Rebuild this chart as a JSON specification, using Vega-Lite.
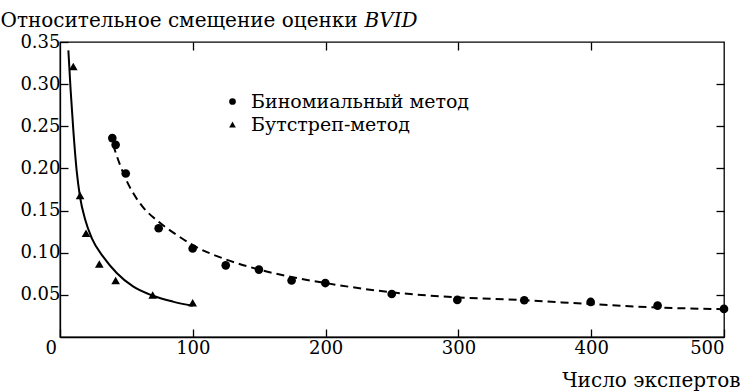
{
  "$schema": "https://vega.github.io/schema/vega-lite/v6.json",
  "autosize": "none",
  "width": 664,
  "height": 295,
  "padding": {"left": 60, "top": 42, "right": 18, "bottom": 54},
  "background": "white",
  "config": {
    "font": "DejaVu Serif",
    "view": {"stroke": "black", "strokeWidth": 1.3},
    "axis": {
      "domainColor": "black", "domainWidth": 1.3,
      "tickColor": "black", "tickWidth": 1.3, "tickSize": -8,
      "labelColor": "black", "labelFont": "DejaVu Serif", "labelFontSize": 18,
      "titleColor": "black", "titleFont": "DejaVu Serif", "titleFontSize": 20, "titleFontWeight": "normal",
      "grid": false
    },
    "legend": {"labelFont": "DejaVu Serif", "labelFontSize": 19, "labelColor": "black", "labelLimit": 400}
  },
  "datasets": {
    "points": [
      {"n": 39.4, "bias": 0.236, "method": "Биномиальный метод"},
      {"n": 41.9, "bias": 0.228, "method": "Биномиальный метод"},
      {"n": 49.5, "bias": 0.194, "method": "Биномиальный метод"},
      {"n": 74.3, "bias": 0.129, "method": "Биномиальный метод"},
      {"n": 99.9, "bias": 0.105, "method": "Биномиальный метод"},
      {"n": 124.8, "bias": 0.085, "method": "Биномиальный метод"},
      {"n": 149.8, "bias": 0.080, "method": "Биномиальный метод"},
      {"n": 174.4, "bias": 0.067, "method": "Биномиальный метод"},
      {"n": 199.8, "bias": 0.064, "method": "Биномиальный метод"},
      {"n": 249.8, "bias": 0.051, "method": "Биномиальный метод"},
      {"n": 299.2, "bias": 0.044, "method": "Биномиальный метод"},
      {"n": 349.6, "bias": 0.0436, "method": "Биномиальный метод"},
      {"n": 399.6, "bias": 0.0416, "method": "Биномиальный метод"},
      {"n": 450, "bias": 0.0372, "method": "Биномиальный метод"},
      {"n": 500, "bias": 0.0333, "method": "Биномиальный метод"},
      {"n": 10, "bias": 0.321, "method": "Бутстреп-метод"},
      {"n": 15.1, "bias": 0.168, "method": "Бутстреп-метод"},
      {"n": 19.6, "bias": 0.123, "method": "Бутстреп-метод"},
      {"n": 29.6, "bias": 0.0867, "method": "Бутстреп-метод"},
      {"n": 41.9, "bias": 0.0669, "method": "Бутстреп-метод"},
      {"n": 69.8, "bias": 0.0499, "method": "Бутстреп-метод"},
      {"n": 99.9, "bias": 0.0407, "method": "Бутстреп-метод"}
    ],
    "curveB": [
      {"n": 40, "bias": 0.228}, {"n": 45, "bias": 0.205}, {"n": 50, "bias": 0.186},
      {"n": 55, "bias": 0.171}, {"n": 62, "bias": 0.155}, {"n": 74, "bias": 0.137},
      {"n": 88, "bias": 0.121}, {"n": 100, "bias": 0.109}, {"n": 125, "bias": 0.092},
      {"n": 150, "bias": 0.080}, {"n": 175, "bias": 0.071}, {"n": 200, "bias": 0.064},
      {"n": 250, "bias": 0.053}, {"n": 300, "bias": 0.047}, {"n": 350, "bias": 0.0436},
      {"n": 400, "bias": 0.039}, {"n": 450, "bias": 0.035}, {"n": 500, "bias": 0.033}
    ],
    "curveS": [
      {"n": 6.3, "bias": 0.340}, {"n": 8, "bias": 0.293}, {"n": 10, "bias": 0.246},
      {"n": 12.5, "bias": 0.198}, {"n": 15, "bias": 0.167}, {"n": 19, "bias": 0.139},
      {"n": 24, "bias": 0.117}, {"n": 32.6, "bias": 0.095}, {"n": 42.7, "bias": 0.076},
      {"n": 55, "bias": 0.060}, {"n": 70, "bias": 0.049}, {"n": 85, "bias": 0.042},
      {"n": 100, "bias": 0.037}
    ]
  },
  "layer": [
    {
      "data": {"name": "curveB"},
      "mark": {"type": "line", "color": "black", "strokeWidth": 2, "strokeDash": [8, 5], "interpolate": "monotone"},
      "encoding": {
        "x": {"field": "n", "type": "quantitative", "scale": {"domain": [0, 500], "nice": false},
          "axis": {"values": [0, 100, 200, 300, 400, 500], "labelPadding": 10,
            "labelOffset": {"condition": {"test": "datum.value == 0", "value": -15}, "value": 0},
            "title": "Число экспертов", "titleAlign": "right", "titleAnchor": null, "titleAngle": 0,
            "titleX": 680, "titleY": 49, "titleBaseline": "alphabetic"}},
        "y": {"field": "bias", "type": "quantitative", "scale": {"domain": [0, 0.35], "nice": false},
          "axis": {"values": [0.05, 0.1, 0.15, 0.2, 0.25, 0.3, 0.35], "format": ".2f", "labelPadding": 8,
            "title": "Относительное смещение оценки", "titleAngle": 0, "titleAlign": "left",
            "titleBaseline": "alphabetic", "titleX": -60, "titleY": -16}}
      }
    },
    {
      "data": {"name": "curveS"},
      "mark": {"type": "line", "color": "black", "strokeWidth": 2, "interpolate": "monotone"},
      "encoding": {
        "x": {"field": "n", "type": "quantitative", "axis": null},
        "y": {"field": "bias", "type": "quantitative", "axis": null}
      }
    },
    {
      "data": {"name": "points"},
      "mark": {"type": "point", "filled": true, "color": "black", "opacity": 1, "size": 75},
      "encoding": {
        "x": {"field": "n", "type": "quantitative", "axis": null},
        "y": {"field": "bias", "type": "quantitative", "axis": null},
        "shape": {"field": "method", "type": "nominal",
          "scale": {"domain": ["Биномиальный метод", "Бутстреп-метод"], "range": ["circle", "triangle-up"]},
          "legend": {"title": null, "orient": "none", "legendX": 163, "legendY": 50,
            "symbolSize": 45, "symbolFillColor": "black", "symbolStrokeColor": "black",
            "labelOffset": 9, "rowPadding": 3}}
      }
    },
    {
      "data": {"name": "curveB"},
      "mark": {"type": "point", "opacity": 0},
      "encoding": {
        "x": {"field": "n", "type": "quantitative",
          "axis": {"orient": "top", "values": [100, 200, 300, 400], "labels": false, "domain": false,
            "title": "BVID", "titleFontStyle": "italic", "titleAlign": "left", "titleAnchor": null,
            "titleX": 304, "titleY": -16, "titleBaseline": "alphabetic"}},
        "y": {"field": "bias", "type": "quantitative",
          "axis": {"orient": "right", "values": [0.05, 0.1, 0.15, 0.2, 0.25, 0.3], "labels": false, "domain": false, "title": null}}
      }
    }
  ],
  "resolve": {"axis": {"x": "independent", "y": "independent"}}
}
